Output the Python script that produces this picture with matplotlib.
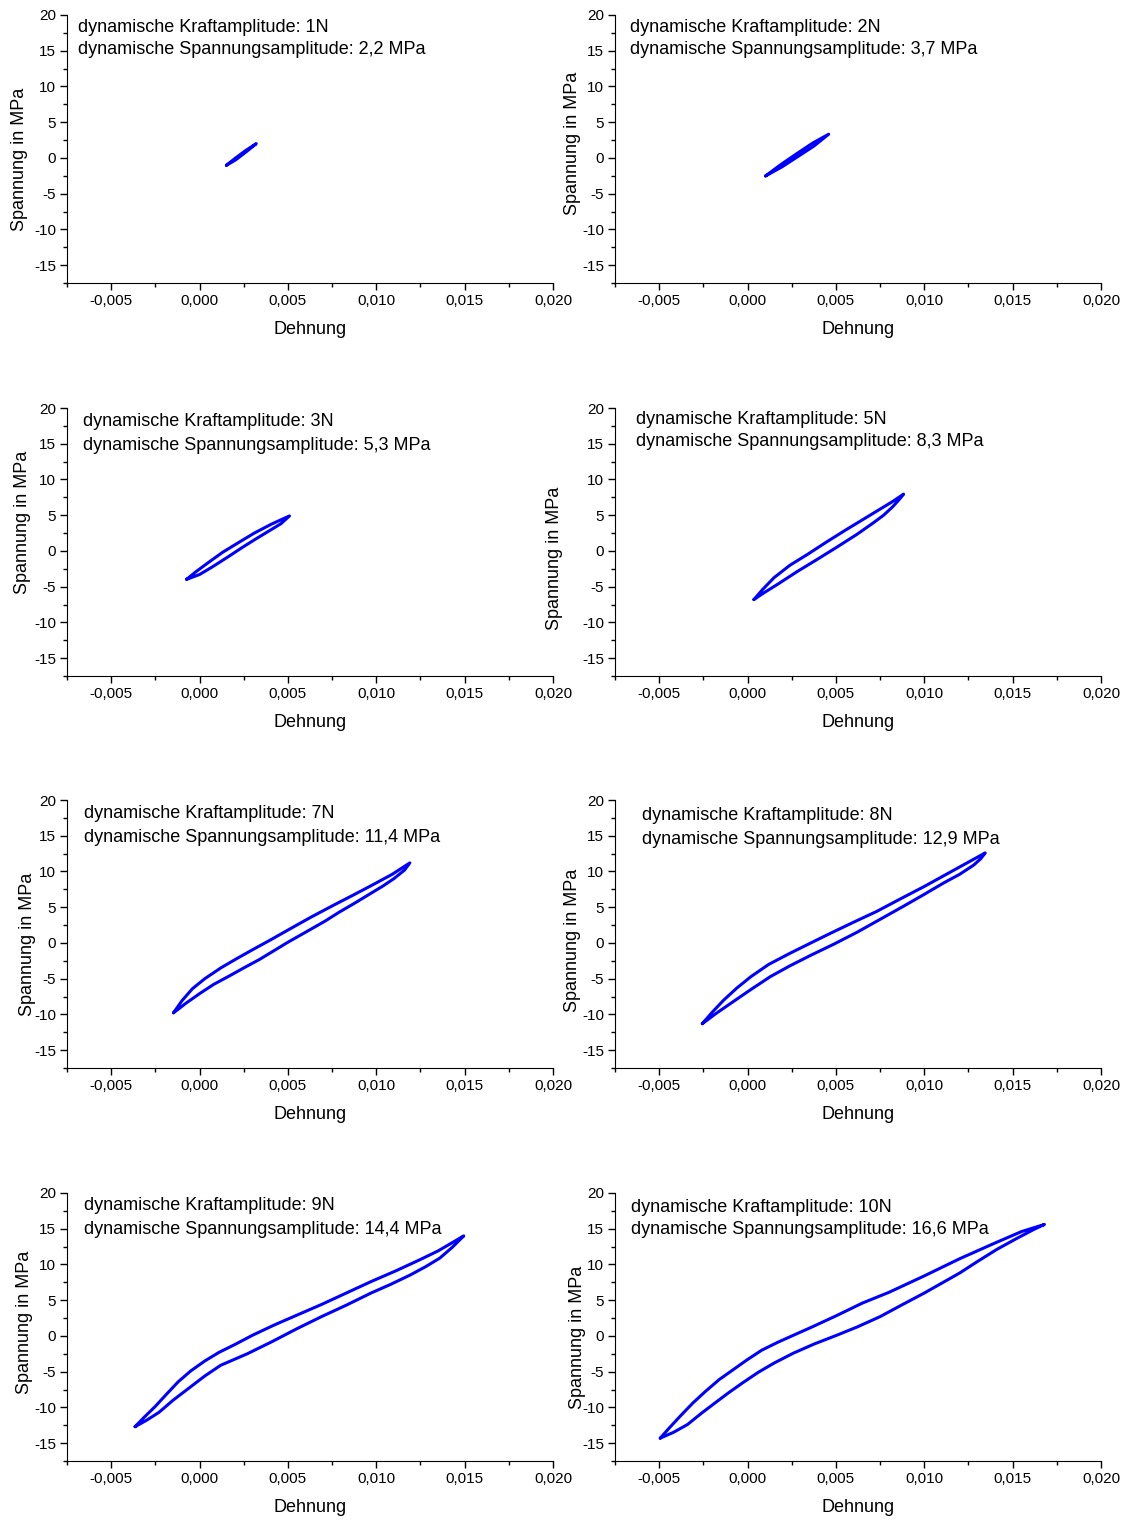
import matplotlib
matplotlib.use("Agg")
import matplotlib.pyplot as plt
from matplotlib.ticker import MultipleLocator, FuncFormatter

plt.rcParams['font.family'] = ['Liberation Sans', 'DejaVu Sans']

# Amplituden (Beschriftung)
kraft = ["1N", "2N", "3N", "5N", "7N", "8N", "9N", "10N"]
spannung_amp = ["2,2", "3,7", "5,3", "8,3", "11,4", "12,9", "14,4", "16,6"]

# Hystereseschleifen: Dehnung [-], Spannung [MPa]
# (unten links -> oberer Ast -> oben rechts -> unterer Ast -> zurueck)
dehnung_1N = [0.00152, 0.00200, 0.00260, 0.00321, 0.00265, 0.00205, 0.00152]
spannung_1N = [-1.03, -0.08, 1.02, 2.00, 0.88, -0.26, -1.03]

dehnung_2N = [0.00102, 0.00190, 0.00280, 0.00370, 0.00459, 0.00375, 0.00285, 0.00195, 0.00102]
spannung_2N = [-2.52, -0.90, 0.62, 2.10, 3.32, 1.65, 0.20, -1.25, -2.52]

dehnung_3N = [-0.00073, -0.00020, 0.00049, 0.00130, 0.00220, 0.00310, 0.00406, 0.00509,
              0.00460, 0.00400, 0.00320, 0.00240, 0.00160, 0.00068, 0.00000, -0.00073]
spannung_3N = [-3.97, -2.90, -1.64, -0.20, 1.16, 2.50, 3.74, 4.90,
               3.80, 2.90, 1.70, 0.46, -0.85, -2.30, -3.30, -3.97]

dehnung_5N = [0.00036, 0.00085, 0.00150, 0.00240, 0.00340, 0.00450, 0.00560, 0.00660, 0.00750, 0.00820, 0.00883,
              0.00855, 0.00820, 0.00770, 0.00710, 0.00620, 0.00510, 0.00395, 0.00280, 0.00170, 0.00090, 0.00036]
spannung_5N = [-6.80, -5.40, -3.74, -2.00, -0.47, 1.30, 3.00, 4.50, 5.85, 6.90, 7.95,
               7.10, 6.15, 5.00, 3.90, 2.34, 0.60, -1.17, -2.90, -4.67, -5.90, -6.80]

dehnung_7N = [-0.00147, -0.00100, -0.00040, 0.00030, 0.00120, 0.00210, 0.00300, 0.00400, 0.00500,
              0.00630, 0.00760, 0.00870, 0.00970, 0.01090, 0.01190,
              0.01160, 0.01100, 0.01040, 0.00960, 0.00880, 0.00790, 0.00710, 0.00600, 0.00500,
              0.00420, 0.00340, 0.00250, 0.00170, 0.00080, 0.00000, -0.00075, -0.00147]
spannung_7N = [-9.77, -8.10, -6.40, -5.00, -3.50, -2.20, -0.95, 0.40, 1.80,
               3.60, 5.30, 6.70, 8.00, 9.60, 11.20,
               10.20, 9.00, 8.00, 6.80, 5.60, 4.30, 3.05, 1.50, 0.10,
               -1.10, -2.30, -3.50, -4.60, -5.80, -7.10, -8.40, -9.77]

dehnung_8N = [-0.00256, -0.00200, -0.00135, -0.00060, 0.00020, 0.00120, 0.00240, 0.00350,
              0.00470, 0.00600, 0.00730, 0.00860, 0.01000, 0.01110, 0.01220, 0.01345,
              0.01320, 0.01280, 0.01200, 0.01110, 0.01000, 0.00880, 0.00750, 0.00620,
              0.00490, 0.00360, 0.00240, 0.00130, 0.00020, -0.00095, -0.00180, -0.00256]
spannung_8N = [-11.30, -9.70, -8.00, -6.30, -4.70, -3.00, -1.45, -0.10,
               1.36, 2.90, 4.40, 6.10, 7.90, 9.40, 10.90, 12.60,
               11.80, 10.90, 9.60, 8.40, 6.80, 5.10, 3.30, 1.50,
               -0.15, -1.70, -3.20, -4.70, -6.50, -8.45, -9.90, -11.30]

dehnung_9N = [-0.00365, -0.00310, -0.00250, -0.00185, -0.00120, -0.00050, 0.00030, 0.00110,
              0.00200, 0.00300, 0.00420, 0.00550, 0.00690, 0.00830, 0.00970, 0.01110,
              0.01250, 0.01350, 0.01440, 0.01495,
              0.01430, 0.01360, 0.01280, 0.01190, 0.01080, 0.00970, 0.00830, 0.00690,
              0.00550, 0.00410, 0.00270, 0.00120, 0.00030, -0.00060, -0.00150, -0.00230,
              -0.00300, -0.00365]
spannung_9N = [-12.70, -11.30, -9.85, -8.10, -6.40, -4.90, -3.50, -2.30,
               -1.20, 0.10, 1.50, 2.90, 4.40, 6.00, 7.60, 9.10,
               10.70, 11.90, 13.20, 14.00,
               12.40, 10.90, 9.70, 8.50, 7.20, 6.00, 4.30, 2.70,
               1.00, -0.80, -2.50, -4.10, -5.60, -7.30, -9.00, -10.70,
               -11.80, -12.70]

dehnung_10N = [-0.00494, -0.00440, -0.00380, -0.00310, -0.00240, -0.00160, -0.00080, 0.00000,
               0.00080, 0.00170, 0.00260, 0.00360, 0.00500, 0.00650, 0.00800, 0.01000,
               0.01200, 0.01400, 0.01550, 0.01680,
               0.01620, 0.01520, 0.01410, 0.01300, 0.01200, 0.01100, 0.01000, 0.00870,
               0.00750, 0.00620, 0.00500, 0.00380, 0.00260, 0.00150, 0.00060, -0.00030,
               -0.00110, -0.00180, -0.00260, -0.00340, -0.00420, -0.00494]
spannung_10N = [-14.30, -12.80, -11.20, -9.40, -7.80, -6.10, -4.70, -3.30,
                -2.00, -0.90, 0.10, 1.20, 2.80, 4.60, 6.10, 8.40,
                10.80, 13.00, 14.60, 15.60,
                14.90, 13.60, 12.10, 10.40, 8.80, 7.40, 6.00, 4.30,
                2.70, 1.25, 0.05, -1.10, -2.40, -3.80, -5.10, -6.60,
                -8.00, -9.30, -10.80, -12.40, -13.50, -14.30]

dehnung = [dehnung_1N, dehnung_2N, dehnung_3N, dehnung_5N,
           dehnung_7N, dehnung_8N, dehnung_9N, dehnung_10N]
spannung = [spannung_1N, spannung_2N, spannung_3N, spannung_5N,
            spannung_7N, spannung_8N, spannung_9N, spannung_10N]

# Layout (Pixel-Abschaetzungen aus dem Original)
W, H = 1131, 1520
col_left = [67, 615]
row_top = [15, 408, 800, 1193]
ax_w, ax_h = 486, 268
text_off = [(11, 12), (15, 12), (16, 14), (21, 11), (17, 14), (27, 16), (17, 13), (16, 14)]
ylab_pos = [(-0.080, 0.463), (-0.070, 0.522), (-0.074, 0.575), (-0.107, 0.440),
            (-0.064, 0.463), (-0.070, 0.478), (-0.070, 0.519), (-0.060, 0.463)]

fig = plt.figure(figsize=(W / 100, H / 100), dpi=100)

xfmt = FuncFormatter(lambda v, p: f"{v:.3f}".replace(".", ","))
yfmt = FuncFormatter(lambda v, p: f"{v:.0f}")

for i in range(8):
    r, c = divmod(i, 2)
    ax = fig.add_axes([col_left[c] / W, 1 - (row_top[r] + ax_h) / H, ax_w / W, ax_h / H])
    ax.plot(dehnung[i], spannung[i], color="#0000ff", lw=2.2,
            solid_joinstyle="round", solid_capstyle="round")

    ax.set_xlim(-0.0075, 0.020)
    ax.set_ylim(-17.5, 20)
    ax.xaxis.set_major_locator(MultipleLocator(0.005))
    ax.xaxis.set_minor_locator(MultipleLocator(0.0025))
    ax.yaxis.set_major_locator(MultipleLocator(5))
    ax.yaxis.set_minor_locator(MultipleLocator(2.5))
    ax.xaxis.set_major_formatter(xfmt)
    ax.yaxis.set_major_formatter(yfmt)
    ax.tick_params(which="major", direction="out", length=5, width=1, labelsize=11, pad=3)
    ax.tick_params(which="minor", direction="out", length=3, width=1)
    ax.spines["top"].set_visible(False)
    ax.spines["right"].set_visible(False)

    ax.set_xlabel("Dehnung", fontsize=13)
    ax.xaxis.set_label_coords(0.5, -0.143)
    ax.set_ylabel("Spannung in MPa", fontsize=13)
    ax.yaxis.set_label_coords(*ylab_pos[i])

    dx, dy = text_off[i]
    ax.text(dx / ax_w, 1 - dy / ax_h, f"dynamische Kraftamplitude: {kraft[i]}",
            transform=ax.transAxes, ha="left", va="center", fontsize=13)
    ax.text(dx / ax_w, 1 - (dy + 23) / ax_h,
            f"dynamische Spannungsamplitude: {spannung_amp[i]} MPa",
            transform=ax.transAxes, ha="left", va="center", fontsize=13)

fig.savefig("out.png", dpi=100)
